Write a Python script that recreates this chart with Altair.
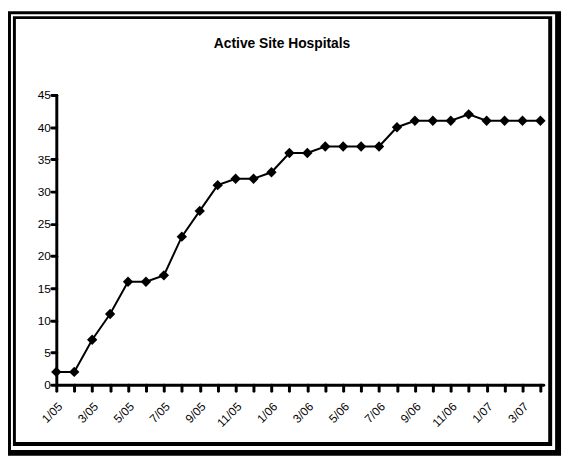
import altair as alt
import pandas as pd

months = ["1/05", "2/05", "3/05", "4/05", "5/05", "6/05", "7/05", "8/05", "9/05", "10/05",
          "11/05", "12/05", "1/06", "2/06", "3/06", "4/06", "5/06", "6/06", "7/06", "8/06",
          "9/06", "10/06", "11/06", "12/06", "1/07", "2/07", "3/07", "4/07"]
hospitals = [2, 2, 7, 11, 16, 16, 17, 23, 27, 31,
             32, 32, 33, 36, 36, 37, 37, 37, 37, 40,
             41, 41, 41, 42, 41, 41, 41, 41]
y_ticks = [0, 5, 10, 15, 20, 25, 30, 35, 40, 45]
title_text = "Active Site Hospitals"

df = pd.DataFrame({"idx": list(range(len(months))), "month": months, "value": hospitals})

tick_labels = [m if i % 2 == 0 else "" for i, m in enumerate(months)]
label_expr = "[" + ",".join("'" + t + "'" for t in tick_labels) + "][datum.value]"

FONT = "Liberation Sans"
W, H = 494, 294

frame_df = pd.DataFrame({"k": [0]})

def band(x1, x2, y1, y2, color):
    return alt.Chart(frame_df).mark_rect(color=color, opacity=1).encode(
        x=alt.value(x1), x2=alt.value(x2), y=alt.value(y1), y2=alt.value(y2)
    )

frame = (
    band(-49, 512, -85, 366, "black")
    + band(-46, 506, -82, 360, "white")
    + band(-44, 503, -80, 356, "black")
    + band(-41, 499, -77, 352, "white")
)

title = alt.Chart(frame_df).mark_text(
    text=title_text, font=FONT, fontSize=14, fontWeight="bold", color="black",
    align="center", baseline="alphabetic",
).encode(x=alt.value(229), y=alt.value(-48))

x_enc = alt.X(
    "idx:Q",
    scale=alt.Scale(domain=[0, 27.16], nice=False, zero=False),
    axis=alt.Axis(
        values=list(range(len(months))), labelExpr=label_expr, labelAngle=-45,
        labelOverlap=False, labelBound=False, title=None, grid=False,
        domainColor="black", domainWidth=3, domainCap="round",
        tickColor="black", tickWidth=3, tickSize=6, tickCap="round",
        labelFont=FONT, labelFontSize=12, labelColor="black", labelPadding=10,
        zindex=1,
    ),
)
y_enc = alt.Y(
    "value:Q",
    scale=alt.Scale(domain=[0, 45], nice=False),
    axis=alt.Axis(
        values=y_ticks, title=None, grid=False, labelOverlap=False,
        domainColor="black", domainWidth=3, domainCap="round",
        tickColor="black", tickWidth=3, tickSize=5, tickCap="round",
        labelFont=FONT, labelFontSize=12, labelColor="black", labelPadding=1,
        zindex=1,
    ),
)

line = alt.Chart(df).mark_line(color="black", strokeWidth=2).encode(x=x_enc, y=y_enc)
points = alt.Chart(df).mark_point(shape="diamond", filled=True, color="black", size=110, opacity=1).encode(
    x=x_enc, y=y_enc
)

chart = (
    alt.layer(frame, title, line, points)
    .properties(
        width=W, height=H,
        autosize=alt.AutoSizeParams(type="none"),
        padding={"left": 49, "top": 85, "right": 20, "bottom": 73},
        background="white",
    )
    .configure_view(stroke=None)
)

chart.save("out.html", embed_options={"renderer": "svg", "actions": False})
